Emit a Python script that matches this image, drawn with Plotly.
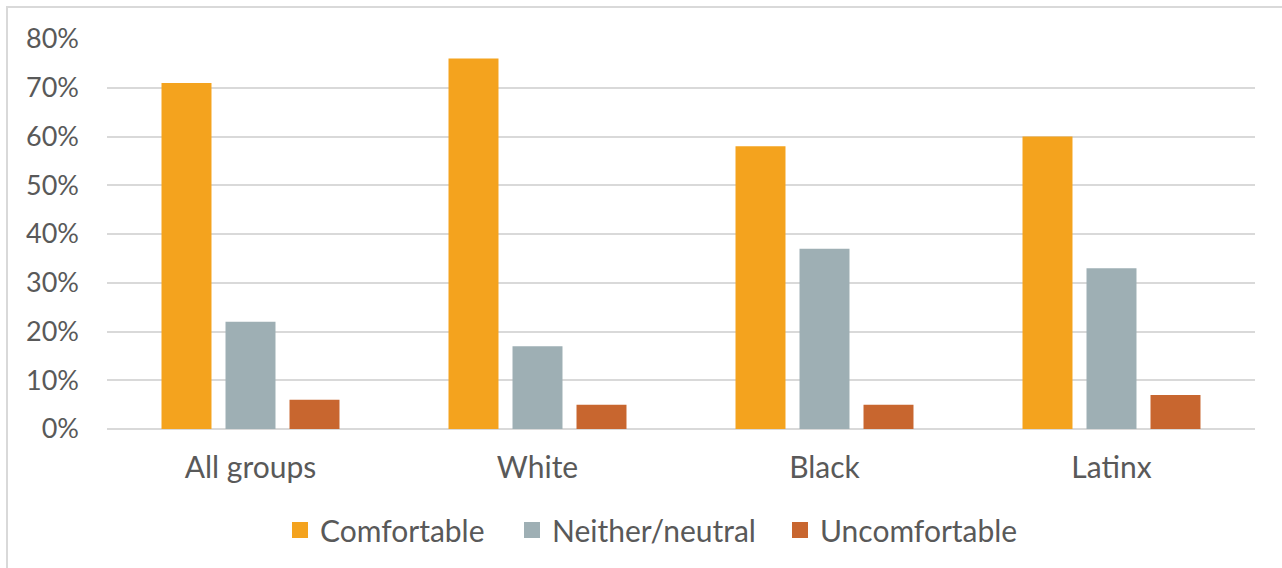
import plotly.graph_objects as go

categories = ["All groups", "White", "Black", "Latinx"]
comfortable = [0.71, 0.76, 0.58, 0.60]
neutral = [0.22, 0.17, 0.37, 0.33]
uncomfortable = [0.06, 0.05, 0.05, 0.07]
series_names = ["Comfortable", "Neither/neutral", "Uncomfortable"]
colors = ["#F4A31E", "#9EAFB4", "#C8662F"]
legend_marker_px = [300, 532, 800]

W, H = 1282, 568
L, R, T, B = 107, 27, 39, 139
pw, ph = W - L - R, H - T - B

fig = go.Figure()
for name, vals, c in zip(series_names, [comfortable, neutral, uncomfortable], colors):
    fig.add_trace(go.Bar(x=categories, y=vals, name=name, showlegend=False,
                         marker=dict(color=c, line=dict(width=0))))

font = "Lato, 'Open Sans', sans-serif"
legends = {}
for i, (name, c, mx) in enumerate(zip(series_names, colors, legend_marker_px)):
    key = "legend" if i == 0 else f"legend{i + 1}"
    fig.add_trace(go.Scatter(x=[None], y=[None], mode="markers", name=name,
                             legend=key,
                             marker=dict(symbol="square", size=17, color=c)))
    legends[key] = dict(orientation="h", x=(mx - 20 - L) / pw, xanchor="left",
                        y=(429 - 530) / ph, yanchor="middle",
                        font=dict(size=30, color="#595959", family=font),
                        itemsizing="trace", itemwidth=30,
                        bgcolor="rgba(0,0,0,0)", borderwidth=0)

fig.update_layout(
    width=W, height=H,
    margin=dict(l=L, r=R, t=T, b=B),
    paper_bgcolor="white", plot_bgcolor="white",
    barmode="group", bargap=0.331, bargroupgap=0.219,
    font=dict(family=font, color="#595959", size=30),
    showlegend=True,
    xaxis=dict(showgrid=False, showline=False, ticks="",
               tickfont=dict(size=30, color="#595959"), ticklabelstandoff=18),
    yaxis=dict(range=[0, 0.8], dtick=0.1, tickformat=".0%",
               showgrid=True, gridcolor="#D9D9D9", gridwidth=2,
               zeroline=True, zerolinecolor="#D9D9D9", zerolinewidth=2,
               showline=False, ticks="",
               tickfont=dict(size=27, color="#595959"), ticklabelstandoff=27),
    shapes=[dict(type="rect", xref="paper", yref="paper",
                 x0=(7 - L) / pw, x1=(1300 - L) / pw,
                 y0=(429 - 600) / ph, y1=(429 - 7) / ph,
                 line=dict(color="#D9D9D9", width=2), layer="below")],
    **legends,
)

fig.write_html("out.html", post_script="document.body.style.margin='0';",
               config={"displayModeBar": False})
